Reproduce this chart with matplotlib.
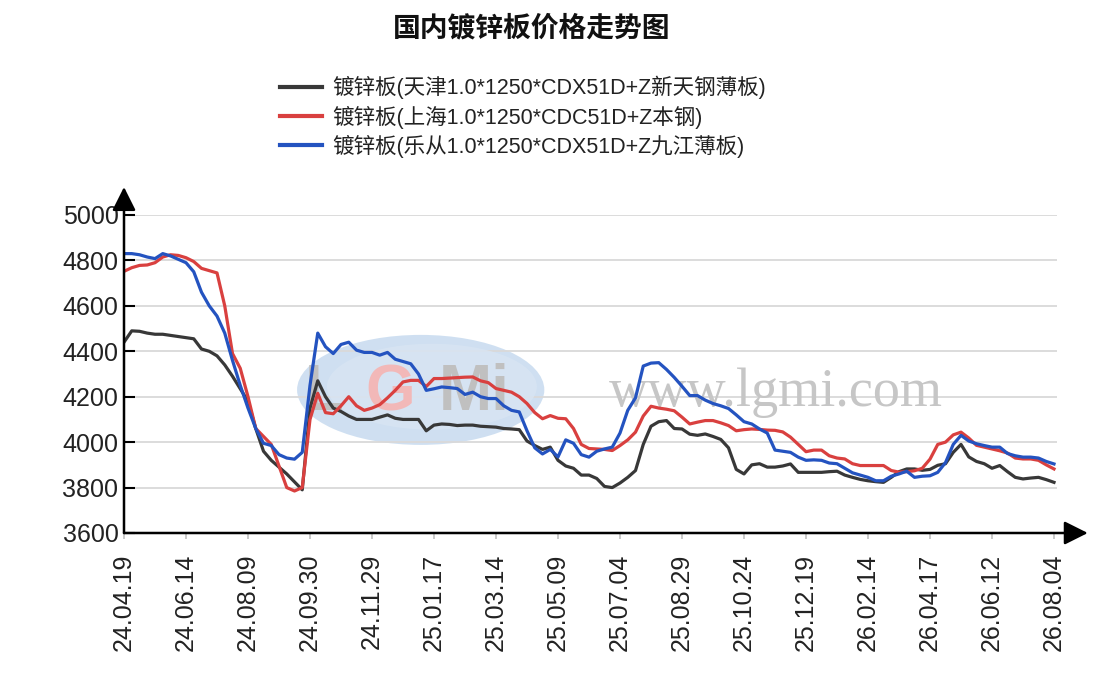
import matplotlib
matplotlib.use('Agg')
import matplotlib.pyplot as plt
from matplotlib.patches import Ellipse
import numpy as np

plt.rcParams['font.family'] = ['Liberation Sans', 'Noto Sans CJK SC', 'DejaVu Sans']

# 周度取样 (每个刻度间隔 8 个点)
tick_labels = ['24.04.19', '24.06.14', '24.08.09', '24.09.30', '24.11.29', '25.01.17',
               '25.03.14', '25.05.09', '25.07.04', '25.08.29', '25.10.24', '25.12.19',
               '26.02.14', '26.04.17', '26.06.12', '26.08.04']

tianjin = [4440, 4490, 4488, 4480, 4475, 4475, 4470, 4465, 4460, 4455,
           4410, 4400, 4380, 4340, 4290, 4235, 4180, 4060, 3960, 3920,
           3890, 3860, 3825, 3790, 4150, 4270, 4200, 4150, 4135, 4115,
           4100, 4100, 4100, 4110, 4120, 4105, 4100, 4100, 4100, 4050,
           4075, 4080, 4078, 4073, 4075, 4075, 4070, 4068, 4066, 4060,
           4058, 4055, 4005, 3985, 3968, 3978, 3920, 3895, 3885, 3855,
           3855, 3840, 3805, 3800, 3820, 3845, 3875, 3990, 4070, 4090,
           4095, 4060, 4058, 4035, 4030, 4036, 4025, 4012, 3975, 3880,
           3860, 3900, 3905, 3890, 3890, 3895, 3904, 3867, 3867, 3867,
           3867, 3870, 3872, 3855, 3845, 3836, 3830, 3826, 3823, 3845,
           3870, 3882, 3882, 3876, 3880, 3898, 3905, 3955, 3990, 3935,
           3915, 3905, 3885, 3897, 3870, 3845, 3838, 3842, 3845, 3835,
           3823]

shanghai = [4752, 4768, 4778, 4780, 4790, 4815, 4825, 4822, 4812, 4795,
            4765, 4755, 4745, 4600, 4390, 4325, 4200, 4060, 4025, 3990,
            3895, 3800, 3785, 3800, 4100, 4215, 4130, 4125, 4160, 4200,
            4160, 4140, 4150, 4165, 4195, 4228, 4265, 4272, 4272, 4245,
            4280, 4280, 4282, 4284, 4286, 4287, 4270, 4262, 4236, 4228,
            4220, 4200, 4170, 4130, 4103, 4117, 4105, 4103, 4060, 3990,
            3972, 3970, 3968, 3963, 3985, 4010, 4044, 4115, 4158, 4150,
            4145, 4138, 4110, 4080, 4088, 4095, 4095, 4085, 4073, 4050,
            4055, 4058, 4056, 4053, 4052, 4045, 4022, 3990, 3958, 3965,
            3965, 3940, 3930, 3926, 3905, 3897, 3897, 3897, 3897, 3875,
            3868, 3870, 3874, 3885, 3925, 3990, 4000, 4032, 4044, 4018,
            3986, 3978, 3970, 3962, 3952, 3930, 3926, 3926, 3920, 3900,
            3882]

lecong = [4830, 4830, 4825, 4815, 4808, 4830, 4820, 4805, 4790, 4750,
          4660, 4600, 4555, 4480, 4360, 4250, 4150, 4060, 3995, 3985,
          3945, 3930, 3925, 3955, 4250, 4480, 4420, 4390, 4430, 4440,
          4405, 4395, 4395, 4383, 4395, 4365, 4355, 4345, 4300, 4228,
          4235, 4243, 4240, 4236, 4210, 4220, 4200, 4192, 4192, 4160,
          4140, 4133, 4050, 3975, 3948, 3968, 3935, 4010, 3995, 3945,
          3934, 3960, 3970, 3978, 4040, 4140, 4195, 4335, 4348, 4350,
          4320, 4285, 4246, 4205, 4205, 4185, 4170, 4160, 4148, 4120,
          4090, 4080, 4058, 4040, 3965, 3960, 3955, 3934, 3920, 3922,
          3920, 3908, 3905, 3885, 3865, 3855, 3845, 3830, 3830, 3850,
          3860, 3872, 3845, 3850, 3852, 3867, 3910, 3990, 4030, 4005,
          3993, 3985, 3978, 3978, 3950, 3940, 3934, 3934, 3930, 3915,
          3904]

names = ['镀锌板(天津1.0*1250*CDX51D+Z新天钢薄板)',
         '镀锌板(上海1.0*1250*CDC51D+Z本钢)',
         '镀锌板(乐从1.0*1250*CDX51D+Z九江薄板)']
colors = ['#383838', '#d9403f', '#2453c0']

fig = plt.figure(figsize=(11.07, 6.97), dpi=100)
ax = fig.add_axes([124 / 1107, 164 / 697, 933 / 1107, 318 / 697])

x = np.arange(len(tianjin))
for ys, c, n in zip([tianjin, shanghai, lecong], colors, names):
    ax.plot(x, ys, color=c, lw=2.3, label=n, zorder=3)

ax.set_xlim(0, 120 * 933 / 930)
ax.set_ylim(3600, 5000)
ax.set_yticks(np.arange(3600, 5001, 200))
ax.set_xticks(x[::8])
ax.set_xticklabels(tick_labels, rotation=90)
ax.grid(axis='y', color='#d9d9d9', lw=1.3, zorder=1)
ax.set_axisbelow(True)
for s in ax.spines.values():
    s.set_visible(False)
ax.tick_params(axis='y', direction='in', length=8, width=1.5, color='black',
               labelsize=18, labelcolor='#222222', pad=4)
ax.tick_params(axis='x', direction='out', length=4, width=1.2, color='#c0c0c0',
               labelsize=18, labelcolor='#222222', pad=11)

# 坐标轴箭头
arr = dict(arrowstyle='-|>,head_length=0.6,head_width=0.3', mutation_scale=24,
           color='black', lw=1.8, shrinkA=0, shrinkB=0)
ax.annotate('', xy=(0, 1.088), xytext=(0, 0), xycoords='axes fraction',
            arrowprops=arr, annotation_clip=False)
ax.annotate('', xy=(1.033, 0), xytext=(0, 0), xycoords='axes fraction',
            arrowprops=arr, annotation_clip=False)

# 水印
ax.add_patch(Ellipse((0.318, 0.45), 0.265, 0.346, transform=ax.transAxes,
                     facecolor='#c3d8ee', edgecolor='none', alpha=0.8, zorder=0.5))
ax.add_patch(Ellipse((0.33, 0.46), 0.225, 0.27, transform=ax.transAxes,
                     facecolor='#d8e5f3', edgecolor='none', alpha=0.8, zorder=0.6))
ax.text(0.215, 0.44, 'L', transform=ax.transAxes, fontsize=46, color='#c0c0c0',
        fontweight='bold', ha='center', va='center', zorder=0.7)
ax.text(0.285, 0.44, 'G', transform=ax.transAxes, fontsize=46, color='#f2b8b8',
        fontweight='bold', ha='center', va='center', zorder=0.7)
ax.text(0.375, 0.44, 'Mi', transform=ax.transAxes, fontsize=46, color='#c0c0c0',
        fontweight='bold', ha='center', va='center', zorder=0.7)
ax.text(0.52, 0.44, 'www.lgmi.com', transform=ax.transAxes, fontsize=39,
        family='Liberation Serif', color='#c6c6c6', ha='left', va='center', zorder=0.7)

fig.text(532 / 1107, 1 - 28 / 697, '国内镀锌板价格走势图', ha='center', va='center',
         fontsize=20, fontweight='bold', family=['Noto Sans CJK SC'], color='#111111')

leg = fig.legend(loc='upper left', bbox_to_anchor=(280 / 1107, 1 - 76 / 697),
                 frameon=False, fontsize=15.5, handlelength=1.95, handletextpad=0.47,
                 labelspacing=0.29, borderpad=0, borderaxespad=0)
for t in leg.get_texts():
    t.set_color('#222222')
for h in leg.get_lines():
    h.set_linewidth(3)

fig.savefig('out.png', dpi=100)
